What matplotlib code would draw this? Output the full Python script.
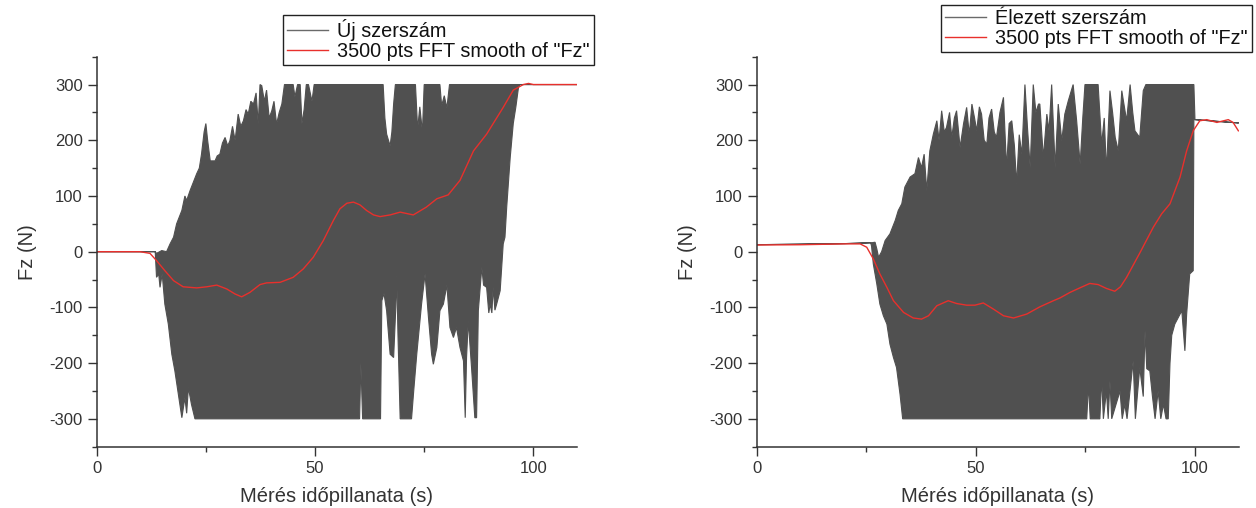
import numpy as np
import matplotlib.pyplot as plt
from matplotlib.lines import Line2D
from matplotlib.ticker import MultipleLocator

plt.rcParams['font.family'] = ['Liberation Sans', 'DejaVu Sans']
plt.rcParams['axes.unicode_minus'] = False

# ---- bal oldali ábra: Új szerszám (burkoló görbék a sűrű jelhez) ----
uj_t_felso = [0, 13.4, 13.7, 14.9, 16.0, 16.8, 17.6, 18.3, 19.5, 20.2, 20.6, 21.4, 21.7,
              22.9, 23.5, 24.0, 24.6, 25.0, 25.4, 26.0, 27.1, 27.6, 28.2, 28.8, 29.4,
              30.0, 30.5, 31.1, 31.7, 32.4, 33.0, 33.6, 34.2, 34.7, 35.3, 35.9, 36.5,
              37.0, 37.4, 37.8, 38.4, 38.9, 39.5, 40.1, 40.6, 41.2, 41.8, 42.4, 43.0,
              45.0, 45.4, 46.0, 46.6, 47.0, 47.5, 48.0, 48.5, 49.3, 49.8, 65.6, 66.0,
              66.4, 67.2, 67.6, 68.0, 68.4, 73.0, 73.5, 74.0, 74.6, 75.0, 78.6, 79.0,
              79.6, 80.2, 80.8, 96.6, 96.9, 110]
uj_f_felso = [0, 0, -3, 2, 0, 14, 26, 50, 74, 100, 92, 110, 116,
              140, 150, 175, 215, 230, 200, 163, 163, 172, 175, 195, 205,
              190, 199, 225, 200, 247, 225, 235, 255, 247, 270, 265, 285,
              229, 300, 298, 270, 290, 240, 253, 270, 229, 250, 265, 300,
              300, 278, 300, 300, 230, 255, 300, 300, 270, 300, 300, 240,
              211, 190, 215, 265, 300, 300, 220, 260, 215, 300, 300, 262,
              280, 258, 300, 300, 300, 300]
uj_t_also = [0, 13.4, 13.7, 14.2, 14.5, 15.0, 15.6, 16.4, 17.2, 17.9, 18.7, 19.5, 20.2,
             20.6, 21.0, 21.7, 22.5, 60.2, 60.5, 60.9, 65.0, 65.3, 65.8, 66.4, 67.2,
             68.0, 68.5, 68.7, 69.0, 69.5, 72.1, 72.6, 73.3, 74.4, 75.2, 76.0, 76.7,
             77.1, 77.9, 78.6, 79.4, 80.2, 80.9, 81.7, 82.4, 83.2, 84.0, 84.4, 84.7,
             85.1, 85.9, 86.6, 87.0, 87.4, 88.2, 88.6, 89.3, 89.8, 90.1, 90.5, 90.8,
             91.2, 91.6, 92.4, 93.1, 93.5, 93.9, 94.7, 95.4, 96.0, 96.6, 96.9, 110]
uj_f_also = [0, 0, -46, -40, -64, -40, -94, -130, -184, -214, -256, -298, -262,
             -290, -244, -274, -300, -300, -200, -300, -300, -88, -75, -106, -184,
             -190, -100, -40, -150, -300, -300, -250, -184, -94, -40, -120, -184,
             -202, -172, -106, -94, -60, -136, -154, -136, -172, -196, -298, -190,
             -124, -214, -298, -298, -106, -28, -60, -64, -110, -94, -110, -64,
             -105, -94, -70, 14, 26, 80, 169, 230, 260, 295, 300, 300]
uj_t_sima = [0, 9.9, 12.2, 13.7, 15.6, 17.6, 19.8, 22.9, 25.2, 27.5, 29.8, 31.7, 33.2,
             35.1, 37.4, 38.9, 42.0, 45.0, 47.3, 49.6, 51.9, 54.2, 55.7, 57.3, 58.8,
             60.3, 61.8, 63.4, 64.9, 67.2, 69.5, 72.5, 75.5, 77.9, 80.5, 83.2, 86.3,
             89.3, 93.1, 95.4, 97.7, 98.9, 100, 110]
uj_f_sima = [0, 0, -3, -16, -34, -52, -63, -65, -63, -60, -67, -76, -81,
             -73, -59, -56, -55, -46, -31, -10, 20, 56, 77, 87, 89,
             84, 74, 66, 63, 66, 71, 66, 80, 95, 102, 128, 181,
             211, 259, 290, 300, 302, 300, 300]

# ---- jobb oldali ábra: Élezett szerszám ----
el_t_felso = [0, 10, 20, 26.2, 27.0, 27.4, 27.8, 28.5, 29.3, 30.4, 31.6, 32.3, 33.1,
              33.8, 35.0, 36.1, 36.9, 37.6, 38.2, 38.8, 39.5, 40.3, 41.1, 41.6, 42.2,
              42.8, 43.3, 44.0, 44.5, 45.1, 45.6, 46.4, 47.2, 47.9, 48.5, 49.1, 49.7,
              50.2, 50.8, 51.3, 51.9, 52.5, 53.0, 53.6, 54.2, 54.7, 55.5, 56.3, 57.0,
              57.6, 58.2, 58.8, 59.3, 59.9, 60.5, 61.2, 61.8, 62.4, 63.1, 63.7, 64.3,
              64.6, 65.4, 66.2, 66.7, 67.3, 68.1, 68.8, 69.6, 70.3, 71.1, 72.2, 73.0,
              73.8, 74.4, 74.9, 77.9, 78.7, 79.3, 79.8, 80.6, 81.2, 81.8, 82.5, 83.3,
              84.4, 85.2, 85.8, 86.3, 87.4, 88.2, 88.8, 99.75, 100.0, 105, 110]
el_f_felso = [12.6, 13.5, 14.5, 16, 17, 5, -10, 0, 20, 32, 56, 74, 86,
              116, 134, 140, 169, 151, 175, 110, 181, 211, 235, 200, 253,
              215, 223, 250, 205, 240, 253, 187, 230, 259, 210, 265, 240,
              217, 260, 247, 200, 193, 240, 256, 215, 205, 250, 277, 151,
              230, 235, 190, 122, 210, 175, 300, 220, 151, 300, 250, 265,
              265, 169, 247, 217, 300, 151, 265, 199, 247, 271, 300, 235,
              157, 240, 300, 300, 193, 240, 145, 289, 250, 205, 181, 289,
              235, 300, 250, 217, 205, 289, 300, 300, 237, 234, 231]
el_t_also = [0, 10, 20, 26.0, 26.2, 26.6, 27.4, 28.1, 28.9, 29.7, 30.4, 31.2, 31.9,
             32.7, 33.3, 75.3, 75.7, 76.1, 78.3, 78.7, 79.1, 79.8, 80.2, 80.6, 81.0,
             82.9, 83.4, 84.0, 84.5, 85.9, 86.4, 87.4, 88.2, 88.6, 89.0, 89.7, 90.3,
             90.9, 91.6, 92.2, 92.8, 93.4, 93.9, 94.3, 94.7, 95.4, 96.2, 97.0, 97.7,
             98.1, 98.8, 99.6, 99.75, 100.0, 105, 110]
el_f_also = [12.6, 13.5, 14.5, 16, 10, -22, -58, -94, -115, -130, -166, -190, -208,
             -256, -300, -300, -238, -300, -300, -226, -300, -250, -300, -232, -300,
             -250, -300, -274, -300, -196, -300, -208, -260, -142, -210, -214, -260,
             -300, -250, -300, -274, -300, -300, -200, -150, -130, -118, -106, -178,
             -112, -40, -34, 237, 237, 234, 231]
el_t_sima = [0, 10, 20, 23.6, 25.1, 26.6, 28.1, 29.7, 31.2, 33.5, 35.7, 37.6, 39.2,
             41.1, 43.7, 45.6, 47.9, 49.8, 51.7, 54.0, 56.3, 58.6, 61.6, 64.6, 67.7,
             69.2, 71.5, 74.0, 76.0, 77.9, 79.8, 81.7, 83.0, 84.4, 87.5, 90.5, 92.4,
             94.3, 96.6, 98.1, 99.6, 101.1, 102.7, 105.0, 107.6, 108.7, 109.9]
el_f_sima = [12, 12.5, 14, 14, 8, -13, -40, -64, -88, -109, -119, -121, -115,
             -97, -88, -93, -96, -96, -92, -103, -115, -119, -112, -99, -88,
             -83, -73, -64, -57, -59, -66, -71, -63, -46, -1, 44, 68,
             86, 134, 181, 217, 235, 237, 232, 237, 232, 217]

jel_szin = '#505050'
piros = '#e8302c'
szoveg = '#333333'

fig = plt.figure(figsize=(12.56, 5.08), dpi=100)
ax1 = fig.add_axes([0.077, 0.1207, 0.3824, 0.7677])
ax2 = fig.add_axes([0.6025, 0.1207, 0.3838, 0.7677])

panelek = [
    (ax1, uj_t_felso, uj_f_felso, uj_t_also, uj_f_also, uj_t_sima, uj_f_sima,
     u"Új szerszám", (594 / 1256, 1 - 15 / 508)),
    (ax2, el_t_felso, el_f_felso, el_t_also, el_f_also, el_t_sima, el_f_sima,
     u"Élezett szerszám", (1252 / 1256, 1 - 5 / 508)),
]

for ax, tf, ff, ta, fa, ts, fs, nev, hely in panelek:
    xs = np.concatenate([tf, ta[::-1]])
    ys = np.concatenate([ff, fa[::-1]])
    ax.fill(xs, ys, facecolor=jel_szin, edgecolor=jel_szin, linewidth=0.8)
    ax.plot(ts, fs, color=piros, linewidth=1.0)

    ax.set_xlim(0, 110)
    ax.set_ylim(-350, 350)
    ax.xaxis.set_major_locator(MultipleLocator(50))
    ax.xaxis.set_minor_locator(MultipleLocator(25))
    ax.yaxis.set_major_locator(MultipleLocator(100))
    ax.yaxis.set_minor_locator(MultipleLocator(50))
    ax.spines['top'].set_visible(False)
    ax.spines['right'].set_visible(False)
    for s in ('left', 'bottom'):
        ax.spines[s].set_color(szoveg)
        ax.spines[s].set_linewidth(1.1)
    ax.tick_params(which='major', direction='out', length=6.5, width=1.0,
                   color=szoveg, labelsize=12, labelcolor=szoveg)
    ax.tick_params(which='minor', direction='out', length=3.5, width=1.0, color=szoveg)
    ax.set_xlabel(u"Mérés időpillanata (s)", fontsize=14.5, color=szoveg, labelpad=8)
    ax.set_ylabel(u"Fz (N)", fontsize=14.5, color=szoveg, labelpad=9)

    kezelok = [Line2D([], [], color='#6a6a6a', linewidth=1.0),
               Line2D([], [], color=piros, linewidth=1.0)]
    leg = ax.legend(kezelok, [nev, u'3500 pts FFT smooth of "Fz"'],
                    loc='upper right', bbox_to_anchor=hely,
                    bbox_transform=fig.transFigure, fontsize=14.3,
                    frameon=True, fancybox=False, edgecolor='#222222',
                    framealpha=1, borderpad=0.2, labelspacing=0.05,
                    handlelength=2.1, handletextpad=0.45, borderaxespad=0)
    leg.get_frame().set_linewidth(1.0)
    for tx in leg.get_texts():
        tx.set_color('#111111')

plt.savefig('out.png', dpi=100)
